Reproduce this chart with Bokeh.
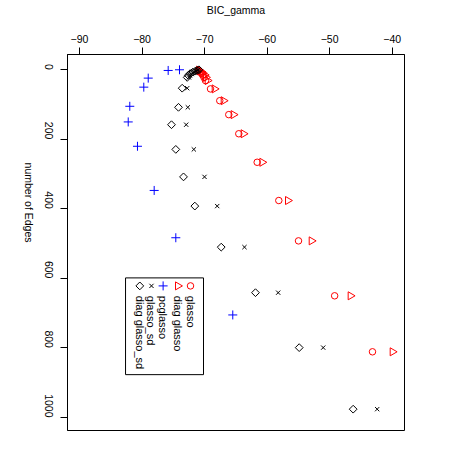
import math
from bokeh.plotting import figure
from bokeh.models import Range1d, FixedTicker
from bokeh.core.properties import value
from bokeh.embed import file_html
from bokeh.resources import INLINE

# ---- data ----
glasso_bic = [-71.0, -70.9, -70.7, -70.5, -70.3, -70.1, -69.85, -69.05, -67.57, -66.13,
              -64.53, -61.59, -58.13, -54.98, -49.2, -43.15]
glasso_edges = [1, 3, 6, 10, 15, 22, 31, 55, 89, 129, 184, 266, 376, 492, 650, 811]

diag_glasso_bic = [-70.9, -70.8, -70.5, -70.3, -70.0, -69.8, -69.53, -68.41, -66.97, -65.38,
                   -63.78, -60.79, -56.69, -52.9, -46.67, -39.95]
diag_glasso_edges = glasso_edges

pcglasso_bic = [-74.01, -75.82, -79.01, -79.72, -81.96, -82.21, -80.73, -78.06, -74.6, -65.49]
pcglasso_edges = [0, 2, 24, 50, 105, 150, 220, 347, 483, 705]

glasso_sd_bic = [-71.0, -71.2, -71.4, -71.7, -72.0, -72.3, -72.5, -72.78, -72.68, -72.94,
                 -71.72, -70.01, -67.98, -63.62, -58.23, -51.03, -42.4]
glasso_sd_edges = [0, 2, 4, 7, 11, 16, 22, 53, 108, 158, 229, 308, 392, 510, 641, 799, 976]

diag_glasso_sd_bic = [-70.9, -71.2, -71.5, -71.9, -72.3, -72.6, -72.78, -73.58, -74.17, -75.29,
                      -74.6, -73.37, -71.56, -67.34, -61.86, -54.87, -46.24]
diag_glasso_sd_edges = glasso_sd_edges

x_ticks = [-90, -80, -70, -60, -50, -40]
x_tick_labels = ["\u221290", "\u221280", "\u221270", "\u221260", "\u221250", "\u221240"]
y_ticks = [0, 200, 400, 600, 800, 1000]
y_tick_labels = ["0", "200", "400", "600", "800", "1000"]

legend_labels = ["glasso", "diag glasso", "pcglasso", "glasso_sd", "diag glasso_sd"]

FONT = "Liberation Sans"
FS = "10.5px"

p = figure(width=442, height=442, output_backend="svg", toolbar_location=None,
           x_range=Range1d(-91.92, -38.03), y_range=Range1d(1037.3, -43.9),
           x_axis_location="above", min_border_left=67, min_border_right=38,
           min_border_top=53, min_border_bottom=12)
p.grid.visible = False
p.outline_line_color = "black"
p.outline_line_alpha = 1.0
p.background_fill_color = "white"
p.border_fill_color = "white"

xa = p.xaxis[0]
xa.ticker = FixedTicker(ticks=x_ticks)
xa.major_label_overrides = {t: l for t, l in zip(x_ticks, x_tick_labels)}
xa.axis_label = "BIC_gamma"
xa.axis_label_standoff = 16
xa.major_label_standoff = 5

ya = p.yaxis[0]
ya.ticker = FixedTicker(ticks=y_ticks)
ya.major_label_overrides = {t: l for t, l in zip(y_ticks, y_tick_labels)}
ya.axis_label = "number of Edges"
ya.axis_label_standoff = 9
ya.major_label_standoff = 12
ya.major_label_orientation = -math.pi / 2
try:
    ya.axis_label_orientation = -math.pi / 2
except Exception:
    pass

for ax in (xa, ya):
    ax.major_tick_out = 7
    ax.major_tick_in = 0
    ax.minor_tick_line_color = None
    ax.axis_line_color = "black"
    ax.major_tick_line_color = "black"
    ax.major_label_text_font = FONT
    ax.major_label_text_font_size = FS
    ax.major_label_text_color = "black"
    ax.axis_label_text_font = FONT
    ax.axis_label_text_font_size = FS
    ax.axis_label_text_font_style = "normal"
    ax.axis_label_text_color = "black"

RED = "#FF0000"
BLUE = "#0000FF"

p.scatter(glasso_bic, glasso_edges, marker="circle", size=6.5, fill_color=None,
          line_color=RED, line_width=1)
p.scatter(diag_glasso_bic, diag_glasso_edges, marker="triangle", size=8, angle=-math.pi / 2,
          fill_color=None, line_color=RED, line_width=1)
p.scatter(pcglasso_bic, pcglasso_edges, marker="cross", size=9, line_color=BLUE, line_width=1)
p.scatter(glasso_sd_bic, glasso_sd_edges, marker="x", size=6, line_color="black", line_width=1)
p.scatter(diag_glasso_sd_bic, diag_glasso_sd_edges, marker="square", size=5.5, angle=math.pi / 4,
          fill_color=None, line_color="black", line_width=1)

# ---- legend (rotated, drawn by hand) ----
p.quad(left=[-82.64], right=[-70.17], top=[598.5], bottom=[876.7],
       fill_color="white", line_color="black", line_width=1)
col_x = [-72.25, -74.28, -76.63, -78.49, -80.36]
sym_y = 621.5
txt_y = 650
markers = [("circle", RED, 6.5, 0), ("triangle", RED, 8, -math.pi / 2), ("cross", BLUE, 9, 0),
           ("x", "black", 6, 0), ("square", "black", 5.5, math.pi / 4)]
for cx, (m, c, s, a) in zip(col_x, markers):
    p.scatter([cx], [sym_y], marker=m, size=s, angle=a, fill_color=None, line_color=c, line_width=1)
p.text(x=col_x, y=[txt_y] * 5, text=legend_labels, angle=-math.pi / 2,
       text_font=value(FONT), text_font_size=value("11px"), text_align="left",
       text_baseline="middle", text_color="black")

open("out.html", "w").write(file_html(p, INLINE))
